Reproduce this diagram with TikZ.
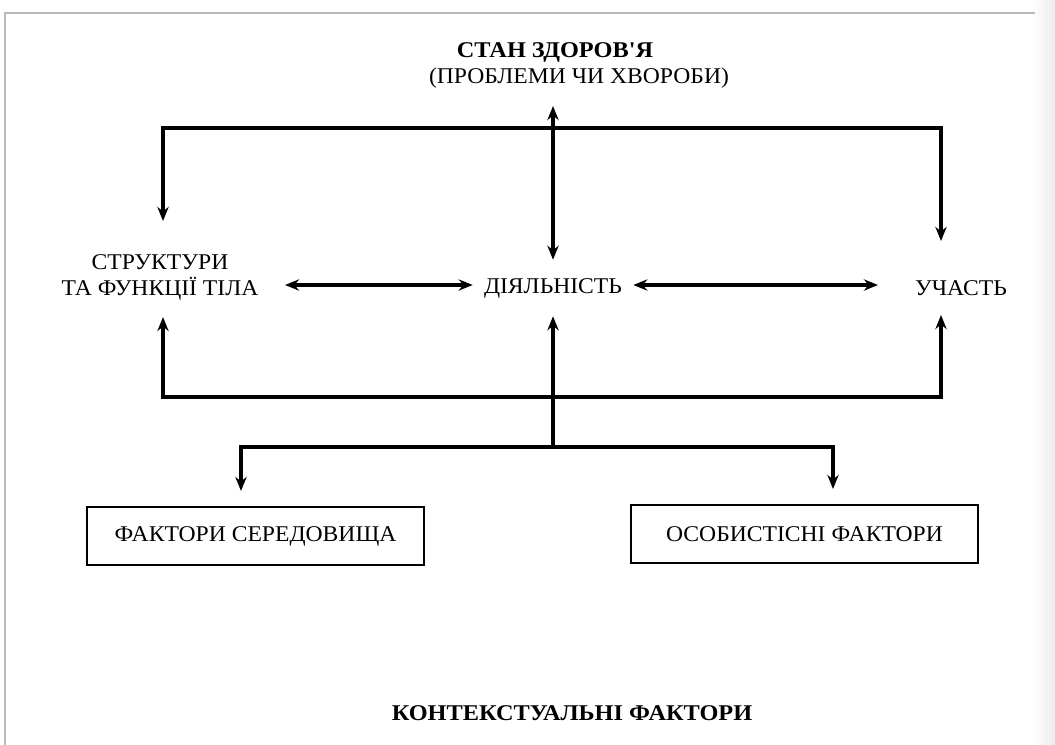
\documentclass[tikz,border=0pt]{standalone}
\usepackage{fontspec}
\setmainfont{Liberation Serif}[FakeStretch=1.05]
\newfontfamily\boldfam{Liberation Serif}[FakeStretch=1.08]
\usetikzlibrary{arrows.meta,calc}
\begin{document}
\begin{tikzpicture}[x=0.025cm,y=-0.025cm,
  lbl/.style={font=\fontsize{16}{18.5}\selectfont, inner sep=0pt},
  ttl/.style={font=\boldfam\fontsize{16}{18.5}\selectfont\bfseries, inner sep=0pt},
  fbox/.style={draw, line width=1.6pt, inner sep=0pt, font=\fontsize{16}{18.5}\selectfont},
  conn/.style={line width=2.2pt, -{Stealth[length=10pt,width=8pt]}},
  conn2/.style={line width=2.2pt, {Stealth[length=10pt,width=8pt]}-{Stealth[length=10pt,width=8pt]}}]
\useasboundingbox (0,0) rectangle (1055,745);
\fill[white] (0,0) rectangle (1055,745);
\shade[left color=white, right color=gray!15] (1032,0) rectangle (1055,745);
\draw[gray!55, line width=1pt] (5,745) -- (5,13) -- (1035,13);
% nodes
\node[ttl] (health) at (555,52) {СТАН ЗДОРОВ'Я};
\node[lbl] (healthsub) at (579,78) {(ПРОБЛЕМИ ЧИ ХВОРОБИ)};
\node[lbl, align=center] (body) at (160,277) {СТРУКТУРИ\\ТА ФУНКЦІЇ ТІЛА};
\node[lbl, minimum width=113.8pt, minimum height=39.8pt] (act) at (553,288) {ДІЯЛЬНІСТЬ};
\node[lbl] (part) at (961,288) {УЧАСТЬ};
\node[fbox, minimum width=239.7pt, minimum height=41.3pt] (env) at (255.5,536) {ФАКТОРИ СЕРЕДОВИЩА};
\node[fbox, minimum width=246.8pt, minimum height=41.3pt] (pers) at (804.5,534) {ОСОБИСТІСНІ ФАКТОРИ};
\node[ttl] (ctx) at (572,713) {КОНТЕКСТУАЛЬНІ ФАКТОРИ};
% coordinates
\coordinate (hTip) at (553,106);
\coordinate (bodyN) at (163,221);
\coordinate (bodyS) at (163,317);
\coordinate (bodyE) at (285,285);
\coordinate (partN) at (941,241);
\coordinate (partS) at (941,315);
\coordinate (partW) at (878,285);
\coordinate (topR) at (941,128);
\coordinate (botR) at (941,397);
\coordinate (fork) at (553,447);
\coordinate (envTip) at (241,491);
\coordinate (persTip) at (833,489);
% connectors
\draw[conn2] (bodyN) |- (topR) -- (partN);
\draw[conn2] (bodyS) |- (botR) -- (partS);
\draw[conn2] (hTip) -- (act.north);
\draw[conn2] (bodyE) -- (act.west |- bodyE);
\draw[conn2] (act.east |- partW) -- (partW);
\draw[conn] (fork) -- (act.south);
\draw[conn] (fork) -| (envTip);
\draw[conn] (fork) -| (persTip);
\end{tikzpicture}
\end{document}
